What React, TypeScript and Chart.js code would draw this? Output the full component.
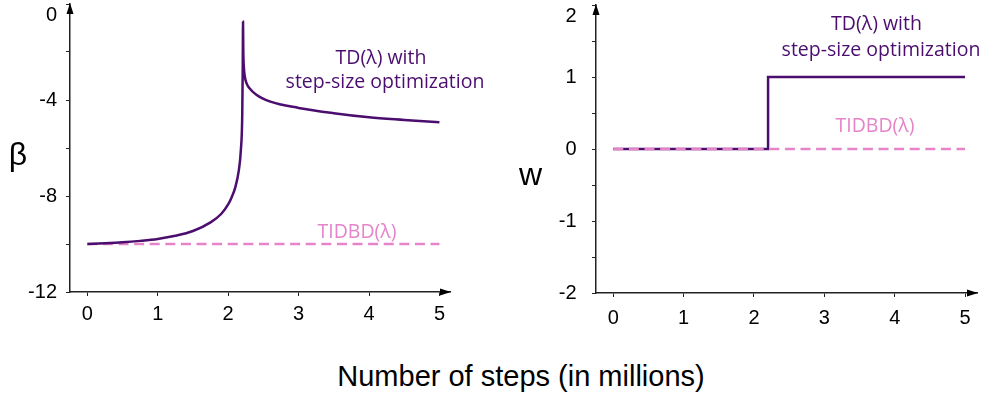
import React, { useEffect, useRef } from "react";
import { Chart, registerables } from "chart.js";

Chart.register(...registerables);

// ---------- data ----------
const betaSteps = [0, 0.25, 0.5, 0.75, 1.0, 1.25, 1.5, 1.75, 1.9, 2.0, 2.05, 2.1, 2.15, 2.18, 2.2, 2.207, 2.211, 2.215, 2.222, 2.235, 2.26, 2.3, 2.4, 2.6, 3.0, 3.5, 4.0, 4.5, 5.0];
const betaTD = [-10.0, -9.97, -9.93, -9.87, -9.79, -9.66, -9.46, -9.1, -8.75, -8.35, -8.05, -7.65, -6.95, -6.1, -4.6, -2.6, -0.74, -2.0, -2.6, -3.0, -3.3, -3.5, -3.78, -4.07, -4.33, -4.55, -4.72, -4.83, -4.93];
const betaTIDBDSteps = [0, 5];
const betaTIDBD = [-10, -10];

const wSteps = [0, 2.2, 2.2, 5];
const wTD = [0, 0, 1, 1];
const wTIDBDSteps = [0, 5];
const wTIDBD = [0, 0];

const xTicks = [0, 1, 2, 3, 4, 5];
const betaTicks = [-12, -10, -8, -6, -4, -2, 0];
const betaLabels = [-12, -8, -4, 0];
const wTicks = [-2, -1.5, -1, -0.5, 0, 0.5, 1, 1.5, 2];
const wLabels = [-2, -1, 0, 1, 2];

const PURPLE = "#4b0d6e";
const PINK = "#e584c9";
const TICK_FONT = "Liberation Sans";
const NOTE_FONT = "Open Sans";

const toPts = (xs: number[], ys: number[]) => xs.map((x, i) => ({ x, y: ys[i] }));

const overlay = {
  id: "overlay",
  afterDraw(chart: any, _args: any, opts: any) {
    const { ctx, chartArea } = chart;
    const { left, top, right, bottom } = chartArea;
    ctx.save();
    ctx.fillStyle = "#000";
    // y arrow
    ctx.beginPath();
    ctx.moveTo(left, top - 1);
    ctx.lineTo(left - 3.5, top + 10);
    ctx.lineTo(left + 3.5, top + 10);
    ctx.closePath();
    ctx.fill();
    // x arrow
    ctx.beginPath();
    ctx.moveTo(right + 1, bottom);
    ctx.lineTo(right - 10, bottom - 3.5);
    ctx.lineTo(right - 10, bottom + 3.5);
    ctx.closePath();
    ctx.fill();
    // top y label, shifted down below the arrow
    const ys = chart.scales.y;
    ctx.font = `20px "${TICK_FONT}"`;
    ctx.textAlign = "right";
    ctx.textBaseline = "middle";
    ctx.fillStyle = "#000";
    ctx.fillText(opts.topLabel, left - 4 - opts.yPad, ys.getPixelForValue(ys.max) + 11);
    // annotations
    for (const t of opts.texts) {
      ctx.font = t.font;
      ctx.fillStyle = t.color;
      ctx.textAlign = "center";
      ctx.textBaseline = "alphabetic";
      ctx.fillText(t.text, t.x, t.y);
    }
    ctx.restore();
  },
};

function makeConfig(p: any) {
  return {
    type: "line",
    data: { datasets: p.datasets },
    options: {
      responsive: false,
      animation: false,
      events: [],
      layout: { padding: { left: 0, top: p.top, right: p.right, bottom: 0 } },
      plugins: {
        legend: { display: false },
        tooltip: { enabled: false },
        overlay: { topLabel: p.topLabel, yPad: p.yPad, texts: p.texts },
      },
      elements: { point: { radius: 0 } },
      scales: {
        x: {
          type: "linear",
          min: -0.246,
          max: p.xMax,
          afterBuildTicks: (s: any) => {
            s.ticks = xTicks.map((v) => ({ value: v }));
          },
          afterFit: (s: any) => {
            s.height = 40;
            s.paddingLeft = 0;
            s.paddingRight = 0;
          },
          ticks: {
            autoSkip: false,
            maxRotation: 0,
            padding: p.xPad,
            color: "#000",
            font: { family: TICK_FONT, size: 20 },
            callback: (v: any) => String(v),
          },
          grid: { drawOnChartArea: false, drawTicks: true, tickLength: 4, color: "#222", lineWidth: 1 },
          border: { display: true, color: "#222", width: 1.5 },
        },
        y: {
          type: "linear",
          min: p.yMin,
          max: p.yMax,
          afterBuildTicks: (s: any) => {
            s.ticks = p.yTicks.map((v: number) => ({ value: v }));
          },
          afterFit: (s: any) => {
            s.width = p.yWidth;
            s.paddingTop = 0;
            s.paddingBottom = 0;
          },
          ticks: {
            autoSkip: false,
            padding: p.yPad,
            color: "#000",
            font: { family: TICK_FONT, size: 20 },
            callback: (v: any) => (p.yLabels.includes(v) && v !== p.yMax ? String(v) : ""),
          },
          grid: { drawOnChartArea: false, drawTicks: true, tickLength: 4, color: "#222", lineWidth: 1 },
          border: { display: true, color: "#222", width: 1.5 },
        },
      },
    },
    plugins: [overlay],
  } as any;
}

function Panel(props: { cfg: any; width: number; height: number; left: number }) {
  const ref = useRef<HTMLCanvasElement>(null);
  useEffect(() => {
    const chart = new Chart(ref.current as HTMLCanvasElement, props.cfg);
    return () => chart.destroy();
  }, []);
  return (
    <canvas
      ref={ref}
      width={props.width}
      height={props.height}
      style={{ position: "absolute", left: props.left, top: 0, width: props.width, height: props.height }}
    />
  );
}

const noteFont = `19.5px "${NOTE_FONT}"`;
const symFont = `32px "${TICK_FONT}"`;

const leftCfg = makeConfig({
  datasets: [
    {
      data: toPts(betaSteps, betaTD),
      borderColor: PURPLE,
      borderWidth: 2.5,
      cubicInterpolationMode: "monotone",
      fill: false,
    },
    {
      data: toPts(betaTIDBDSteps, betaTIDBD),
      borderColor: PINK,
      borderWidth: 2.5,
      borderDash: [10, 5.6],
      fill: false,
    },
  ],
  top: 4,
  right: 43,
  xMax: 5.15,
  yMin: -12,
  yMax: 0,
  yTicks: betaTicks,
  yLabels: betaLabels,
  yWidth: 70,
  yPad: 9,
  xPad: 6,
  topLabel: "0",
  texts: [
    { text: "β", x: 18, y: 165, font: symFont, color: "#000" },
    { text: "TD(λ) with", x: 381, y: 63.5, font: noteFont, color: PURPLE },
    { text: "step-size optimization", x: 385, y: 88, font: noteFont, color: PURPLE },
    { text: "TIDBD(λ)", x: 357, y: 237.5, font: noteFont, color: PINK },
  ],
});

const rightCfg = makeConfig({
  datasets: [
    {
      data: toPts(wTIDBDSteps, wTIDBD),
      borderColor: PINK,
      borderWidth: 2.5,
      borderDash: [10, 5.6],
      fill: false,
    },
    {
      data: toPts(wSteps, wTD),
      borderColor: PURPLE,
      borderWidth: 2.5,
      fill: false,
    },
  ],
  top: 5,
  right: 9,
  xMax: 5.17,
  yMin: -2,
  yMax: 2,
  yTicks: wTicks,
  yLabels: wLabels,
  yWidth: 103,
  yPad: 15.5,
  xPad: 9,
  topLabel: "2",
  texts: [
    { text: "w", x: 37.5, y: 185, font: symFont, color: "#000" },
    { text: "TD(λ) with", x: 383.5, y: 30, font: noteFont, color: PURPLE },
    { text: "step-size optimization", x: 388, y: 55.5, font: noteFont, color: PURPLE },
    { text: "TIDBD(λ)", x: 382, y: 132, font: noteFont, color: PINK },
  ],
});

export default function App() {
  return (
    <div style={{ position: "absolute", left: 0, top: 0, width: 986, height: 393, background: "#fff", overflow: "hidden" }}>
      <Panel cfg={leftCfg} width={493} height={332} left={0} />
      <Panel cfg={rightCfg} width={493} height={333} left={493} />
      <div
        style={{
          position: "absolute",
          left: 521,
          top: 362,
          transform: "translateX(-50%)",
          whiteSpace: "nowrap",
          fontFamily: `"${TICK_FONT}"`,
          fontSize: 29,
          lineHeight: 1,
          color: "#000",
        }}
      >
        Number of steps (in millions)
      </div>
    </div>
  );
}
